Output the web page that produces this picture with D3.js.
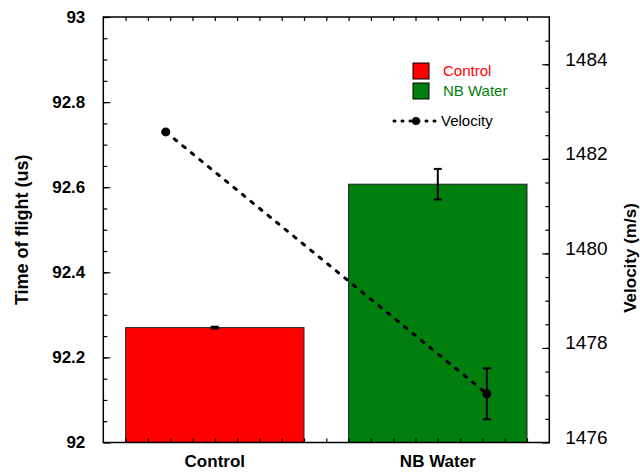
<!DOCTYPE html>
<html>
<head>
<meta charset="utf-8">
<script src="https://cdn.jsdelivr.net/npm/d3@7"></script>
<style>
  html, body { margin: 0; padding: 0; background: #fff; }
  svg { display: block; font-family: "Liberation Sans", Arial, sans-serif; }
</style>
</head>
<body>
<div id="chart"></div>
<script>
// data
const categories = ['Control', 'NB Water'];
const barColors = ['#ff0000', '#007f0e'];
const timeOfFlight = [92.27, 92.607];
const timeError = [0.002, 0.036];
const velocity = [1482.57, 1477.03];
const velocityError = [0.02, 0.54];
const leftTicks = [92, 92.2, 92.4, 92.6, 92.8, 93];
const rightTicks = [1476, 1478, 1480, 1482, 1484];

const width = 640, height = 473;
const plot = { left: 103.3, right: 549.3, top: 17, bottom: 442.5 };

const svg = d3.select('#chart')
	.append('svg')
	.attr('width', width)
	.attr('height', height);

const x = d3.scaleBand()
	.domain(categories)
	.range([plot.left, plot.right])
	.paddingInner(0.2)
	.paddingOuter(0.1);

// helper scale for the small category-axis ticks
const xTick = d3.scaleLinear().domain([0, 20]).range([plot.left, plot.right]);

const yLeft = d3.scaleLinear().domain([92, 93]).range([plot.bottom, plot.top]);
const yRight = d3.scaleLinear().domain([1476, 1485]).range([plot.bottom, plot.top]);

// bars
svg.selectAll('rect.bar')
	.data(categories)
	.enter()
	.append('rect')
	.attr('class', 'bar')
	.attr('x', d => x(d))
	.attr('y', (d, i) => yLeft(timeOfFlight[i]))
	.attr('width', x.bandwidth())
	.attr('height', (d, i) => plot.bottom - yLeft(timeOfFlight[i]))
	.attr('fill', (d, i) => barColors[i])
	.attr('stroke', '#222')
	.attr('stroke-width', 1);

// bar error bars
const capW = 4;
categories.forEach((c, i) => {
	const cx = x(c) + x.bandwidth() / 2;
	const y1 = yLeft(timeOfFlight[i] + timeError[i]);
	const y2 = yLeft(timeOfFlight[i] - timeError[i]);
	const g = svg.append('g').attr('stroke', '#000').attr('stroke-width', 2);
	g.append('line').attr('x1', cx).attr('x2', cx).attr('y1', y1).attr('y2', y2);
	g.append('line').attr('x1', cx - capW).attr('x2', cx + capW).attr('y1', y1).attr('y2', y1);
	g.append('line').attr('x1', cx - capW).attr('x2', cx + capW).attr('y1', y2).attr('y2', y2);
});

// velocity line, points sit off the band centres
const vx = i => x(categories[i]) + x.bandwidth() / 2 + (i === 0 ? -1 : 1) * x.bandwidth() * 0.275;

const line = d3.line()
	.x((d, i) => vx(i))
	.y(d => yRight(d));

svg.append('path')
	.attr('d', line(velocity))
	.attr('fill', 'none')
	.attr('stroke', '#000')
	.attr('stroke-width', 3)
	.attr('stroke-linecap', 'round')
	.attr('stroke-dasharray', '3 8');

velocity.forEach((v, i) => {
	const cx = vx(i);
	const y1 = yRight(v + velocityError[i]);
	const y2 = yRight(v - velocityError[i]);
	const g = svg.append('g').attr('stroke', '#000').attr('stroke-width', 2);
	g.append('line').attr('x1', cx).attr('x2', cx).attr('y1', y1).attr('y2', y2);
	g.append('line').attr('x1', cx - capW).attr('x2', cx + capW).attr('y1', y1).attr('y2', y1);
	g.append('line').attr('x1', cx - capW).attr('x2', cx + capW).attr('y1', y2).attr('y2', y2);
	svg.append('circle')
		.attr('cx', cx)
		.attr('cy', yRight(v))
		.attr('r', 4.5)
		.attr('fill', '#000');
});

// frame
svg.append('rect')
	.attr('x', plot.left)
	.attr('y', plot.top)
	.attr('width', plot.right - plot.left)
	.attr('height', plot.bottom - plot.top)
	.attr('fill', 'none')
	.attr('stroke', '#000')
	.attr('stroke-width', 1.5);

// left axis
const leftAxis = svg.append('g')
	.attr('transform', `translate(${plot.left},0)`)
	.call(d3.axisLeft(yLeft).tickValues(leftTicks).tickSize(-7).tickPadding(18).tickFormat(d3.format('~g')));
svg.append('g')
	.attr('transform', `translate(${plot.left},0)`)
	.call(d3.axisLeft(yLeft).tickValues(d3.range(92.05, 93, 0.05)).tickSize(-4).tickFormat(''));

// right axis
const rightAxis = svg.append('g')
	.attr('transform', `translate(${plot.right},0)`)
	.call(d3.axisRight(yRight).tickValues(rightTicks).tickSize(-7).tickPadding(16).tickFormat(d3.format('d')));
svg.append('g')
	.attr('transform', `translate(${plot.right},0)`)
	.call(d3.axisRight(yRight).tickValues(d3.range(1476.5, 1485, 0.5)).tickSize(-4).tickFormat(''));

// bottom and top small ticks
svg.append('g')
	.attr('transform', `translate(0,${plot.bottom})`)
	.call(d3.axisBottom(xTick).tickValues(d3.range(1, 20)).tickSize(-4).tickFormat(''));
svg.append('g')
	.attr('transform', `translate(0,${plot.top})`)
	.call(d3.axisTop(xTick).tickValues(d3.range(1, 20)).tickSize(-4).tickFormat(''));

// bottom category labels
svg.append('g')
	.attr('transform', `translate(0,${plot.bottom})`)
	.call(d3.axisBottom(x).tickSize(0).tickPadding(12))
	.call(g => g.select('.domain').remove())
	.selectAll('text')
	.attr('font-size', 17)
	.attr('font-weight', 'bold')
	.attr('fill', '#000');

svg.selectAll('.domain').attr('stroke', 'none');
svg.selectAll('.tick line').attr('stroke', '#000').attr('stroke-width', 1.2);

leftAxis.selectAll('text')
	.attr('font-size', 17)
	.attr('font-weight', 'bold')
	.attr('fill', '#000');
rightAxis.selectAll('text')
	.attr('font-size', 19)
	.attr('dy', '0.05em')
	.attr('fill', '#000');

// axis titles
svg.append('text')
	.attr('transform', `translate(28,${(plot.top + plot.bottom) / 2}) rotate(-90)`)
	.attr('text-anchor', 'middle')
	.attr('font-size', 18)
	.attr('font-weight', 'bold')
	.text('Time of flight (us)');

svg.append('text')
	.attr('transform', `translate(636,258) rotate(-90)`)
	.attr('text-anchor', 'middle')
	.attr('font-size', 17)
	.attr('font-weight', 'bold')
	.text('Velocity (m/s)');

// legend
const legend = svg.append('g');
categories.forEach((c, i) => {
	legend.append('rect')
		.attr('x', 413)
		.attr('y', 63 + i * 20)
		.attr('width', 16)
		.attr('height', 16)
		.attr('fill', barColors[i])
		.attr('stroke', '#000')
		.attr('stroke-width', 1);
	legend.append('text')
		.attr('x', 443)
		.attr('y', 71 + i * 20)
		.attr('dy', '0.35em')
		.attr('font-size', 15)
		.attr('fill', barColors[i])
		.text(c);
});
legend.append('line')
	.attr('x1', 394).attr('x2', 436)
	.attr('y1', 121).attr('y2', 121)
	.attr('stroke', '#000')
	.attr('stroke-width', 3)
	.attr('stroke-linecap', 'round')
	.attr('stroke-dasharray', '1 7');
legend.append('circle')
	.attr('cx', 416).attr('cy', 121).attr('r', 4)
	.attr('fill', '#000');
legend.append('text')
	.attr('x', 441)
	.attr('y', 121)
	.attr('dy', '0.35em')
	.attr('font-size', 15)
	.attr('fill', '#000')
	.text('Velocity');
</script>
</body>
</html>
